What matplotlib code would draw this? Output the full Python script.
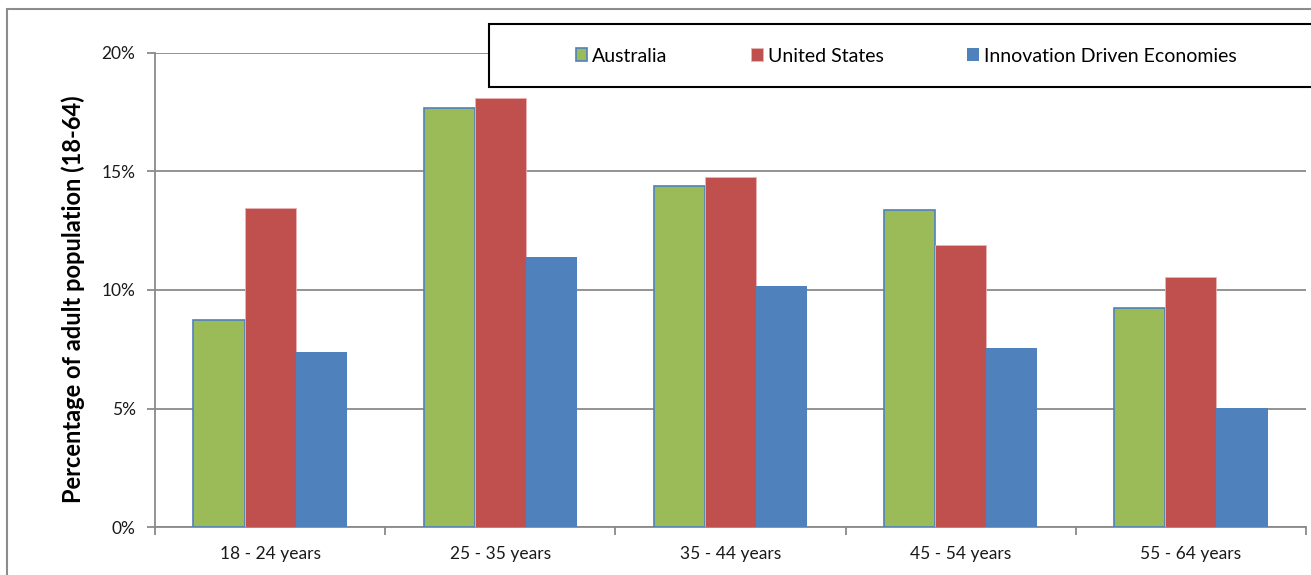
import numpy as np
import matplotlib.pyplot as plt
from matplotlib.patches import Rectangle
from matplotlib.ticker import FuncFormatter

plt.rcParams['font.family'] = ['Lato', 'DejaVu Sans']

# age groups and share of adult population (%) per economy
age_groups = ['18 - 24 years', '25 - 35 years', '35 - 44 years', '45 - 54 years', '55 - 64 years']
australia = [8.73, 17.68, 14.39, 13.38, 9.24]
united_states = [13.46, 18.10, 14.77, 11.90, 10.55]
innovation = [7.38, 11.39, 10.17, 7.55, 5.02]
series_names = ['Australia', 'United States', 'Innovation Driven Economies']

W, H = 1311, 575
fig = plt.figure(figsize=(W / 100, H / 100), dpi=100)
ax = fig.add_axes([155 / W, 1 - 527 / H, (1306 - 155) / W, (527 - 53) / H])

# outer chart frame
fig.patches.append(Rectangle((7 / W, -0.1), 1.2, 1 - 9 / H + 0.1, transform=fig.transFigure,
                             fill=False, edgecolor='#8c8c8c', linewidth=1.5, zorder=0))

x = np.arange(len(age_groups))
bw = 0.222
grid_col = '#8a8a8a'
b1 = ax.bar(x - bw, australia, bw, color='#9BBB59', edgecolor='#4F81BD', linewidth=1.2, zorder=3)
b2 = ax.bar(x, united_states, bw, color='#C0504D', edgecolor='#e8b4b3', linewidth=0.6, zorder=3)
b3 = ax.bar(x + bw, innovation, bw, color='#4F81BD', linewidth=0, zorder=3)

ax.set_xlim(-0.5, len(age_groups) - 0.5)
ax.set_ylim(0, 20)
ax.set_yticks([0, 5, 10, 15, 20])
ax.yaxis.set_major_formatter(FuncFormatter(lambda v, p: f'{v:.0f}%'))
ax.yaxis.grid(True, color=grid_col, linewidth=1.3, zorder=0)
ax.set_axisbelow(True)

ax.set_xticks(np.arange(-0.5, len(age_groups)), minor=False)
ax.set_xticklabels([])
ax.set_xticks(x, minor=True)
ax.set_xticklabels(age_groups, minor=True)
ax.tick_params(axis='x', which='major', length=6, color=grid_col, width=1.3)
ax.tick_params(axis='x', which='minor', length=0, pad=14, labelsize=12.5, labelcolor='#1a1a1a')
ax.tick_params(axis='y', length=6, color=grid_col, width=1.3, labelsize=12.5, labelcolor='#1a1a1a', pad=8)

for s in ['top', 'right']:
    ax.spines[s].set_visible(False)
for s in ['left', 'bottom']:
    ax.spines[s].set_color(grid_col)
    ax.spines[s].set_linewidth(1.3)

ax.set_ylabel('Percentage of adult population (18-64)', fontsize=17, fontweight='bold')
ax.yaxis.set_label_coords(-0.061, 0.48)

# legend box running off the right edge
fig.patches.append(Rectangle((489 / W, 1 - 87 / H), 0.7, 63 / H, transform=fig.transFigure,
                             facecolor='white', edgecolor='black', linewidth=1.5, zorder=5))
fig.legend([b1, b2, b3], series_names, loc='center', ncol=3, frameon=False,
           bbox_to_anchor=(906 / W, 1 - 56 / H), fontsize=14, handlelength=0.6, handleheight=0.6,
           handletextpad=0.25, columnspacing=4.3)

fig.savefig('out.png', dpi=100)
